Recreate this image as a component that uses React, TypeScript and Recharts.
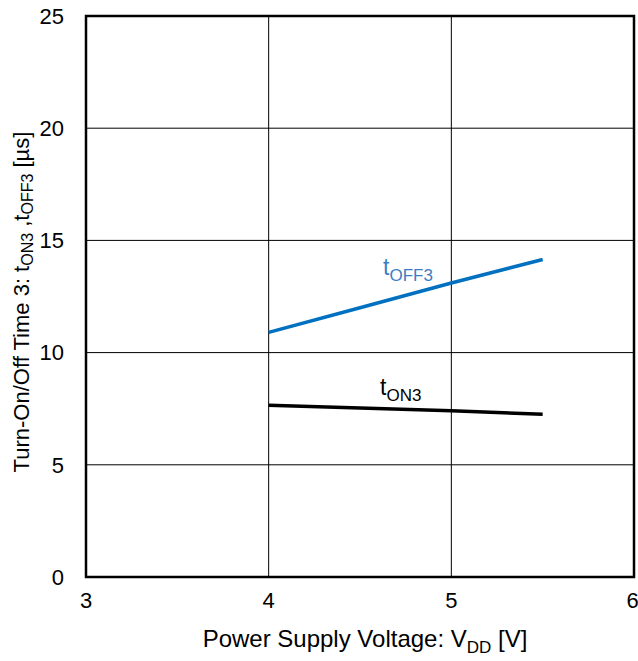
import {
  CartesianGrid,
  Label,
  Line,
  LineChart,
  ReferenceArea,
  ReferenceDot,
  XAxis,
  YAxis,
} from "recharts";

const VDD = [4, 4.5, 5, 5.5];
const T_OFF3 = [10.9, 12.0, 13.1, 14.15];
const T_ON3 = [7.65, 7.53, 7.41, 7.25];
const X_TICKS = [3, 4, 5, 6];
const Y_TICKS = [0, 5, 10, 15, 20, 25];

const data = VDD.map((v, i) => ({ vdd: v, off: T_OFF3[i], on: T_ON3[i] }));

const FONT = "'Liberation Sans', Arial, sans-serif";

function CurveTag({ viewBox, main, sub, fill }: any) {
  if (!viewBox) return null;
  return (
    <text x={viewBox.x} y={viewBox.y} fill={fill} fontSize={23} fontFamily={FONT}>
      <tspan>{main}</tspan>
      <tspan fontSize={17} dy={6}>
        {sub}
      </tspan>
    </text>
  );
}

export default function App() {
  return (
    <div style={{ position: "absolute", left: 0, top: 0, width: 638, height: 661 }}>
      <LineChart
        width={638}
        height={661}
        data={data}
        margin={{ top: 16, right: 4, left: 0, bottom: 0 }}
      >
        <CartesianGrid stroke="#000" strokeWidth={1} />
        <XAxis
          dataKey="vdd"
          type="number"
          domain={[3, 6]}
          ticks={X_TICKS}
          height={84}
          tickSize={0}
          tickMargin={15}
          axisLine={false}
          tick={{ fontSize: 22, fill: "#000", fontFamily: FONT }}
        >
          <Label
            content={({ viewBox }: any) => (
              <text
                x={viewBox.x + viewBox.width / 2 + 5}
                y={647}
                fontSize={24}
                fontFamily={FONT}
                fill="#000"
                textAnchor="middle"
              >
                <tspan>Power Supply Voltage: V</tspan>
                <tspan fontSize={17} dy={6}>DD</tspan>
                <tspan dy={-6}> [V]</tspan>
              </text>
            )}
          />
        </XAxis>
        <YAxis
          type="number"
          domain={[0, 25]}
          ticks={Y_TICKS}
          width={86}
          tickSize={0}
          tickMargin={22}
          axisLine={false}
          tick={{ fontSize: 22, fill: "#000", fontFamily: FONT }}
        >
          <Label
            content={() => {
              const cx = 21;
              const cy = 302;
              return (
                <text
                  x={cx}
                  y={cy}
                  fontSize={22}
                  fontFamily={FONT}
                  fill="#000"
                  textAnchor="middle"
                  transform={`rotate(-90 ${cx} ${cy})`}
                  dominantBaseline="central"
                >
                  <tspan>Turn-On/Off Time 3: t</tspan>
                  <tspan fontSize={16} dy={6}>ON3</tspan>
                  <tspan dy={-6}> ,t</tspan>
                  <tspan fontSize={16} dy={6}>OFF3</tspan>
                  <tspan dy={-6}> [µs]</tspan>
                </text>
              );
            }}
          />
        </YAxis>
        <ReferenceArea
          x1={3}
          x2={6}
          y1={0}
          y2={25}
          fill="none"
          stroke="#000"
          strokeWidth={2.5}
          ifOverflow="visible"
        />
        <Line
          dataKey="off"
          stroke="#0070C0"
          strokeWidth={3.5}
          dot={false}
          isAnimationActive={false}
        />
        <Line
          dataKey="on"
          stroke="#000"
          strokeWidth={3.5}
          dot={false}
          isAnimationActive={false}
        />
        <ReferenceDot
          x={4.626}
          y={13.46}
          r={0}
          fill="none"
          stroke="none"
          label={<CurveTag main="t" sub="OFF3" fill="#3C7DC4" />}
        />
        <ReferenceDot
          x={4.61}
          y={8.11}
          r={0}
          fill="none"
          stroke="none"
          label={<CurveTag main="t" sub="ON3" fill="#000" />}
        />
      </LineChart>
    </div>
  );
}
